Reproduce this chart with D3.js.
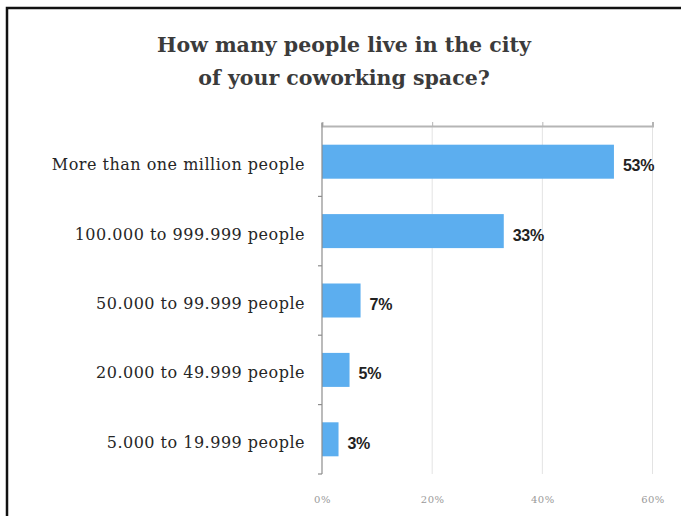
<!DOCTYPE html>
<html>
<head>
<meta charset="utf-8">
<script src="https://cdn.jsdelivr.net/npm/d3@7"></script>
<style>
  html, body { margin: 0; padding: 0; background: #fff; }
  svg { display: block; }
</style>
</head>
<body>
<svg id="chart" width="681" height="516"></svg>
<script>
// Survey answers: city size of the coworking space
const categories = [
  "More than one million people",
  "100.000 to 999.999 people",
  "50.000 to 99.999 people",
  "20.000 to 49.999 people",
  "5.000 to 19.999 people"
];
const shares = [53, 33, 7, 5, 3];
const tickValues = [0, 20, 40, 60];
const titleLines = ["How many people live in the city", "of your coworking space?"];

const rows = categories.map((c, i) => ({ category: c, value: shares[i] }));

const svg = d3.select("#chart");
const W = 681, H = 516;
const plot = { left: 322, right: 652.5, top: 127, bottom: 474 };

// frame (top and left edges)
svg.append("path")
  .attr("d", `M7,${H} V8 H${W}`)
  .attr("fill", "none")
  .attr("stroke", "#111")
  .attr("stroke-width", 2.5);

// title
svg.append("g").selectAll("text")
  .data(titleLines)
  .join("text")
  .attr("x", 344)
  .attr("y", (d, i) => 52 + i * 33)
  .attr("text-anchor", "middle")
  .attr("font-family", "'DejaVu Serif', serif")
  .attr("font-weight", "bold")
  .attr("font-size", 20.5)
  .attr("fill", "#3b3b3b")
  .text(d => d);

const x = d3.scaleLinear().domain([0, 60]).range([plot.left, plot.right]);
const slot = d3.scaleBand().domain(categories).range([plot.top, plot.bottom]).padding(0);
const barH = slot.bandwidth() * 0.49;
const mid = c => slot(c) + slot.bandwidth() / 2;

// vertical gridlines
svg.append("g").selectAll("line")
  .data(tickValues.filter(v => v > 0))
  .join("line")
  .attr("x1", d => x(d)).attr("x2", d => x(d))
  .attr("y1", plot.top - 1).attr("y2", plot.bottom)
  .attr("stroke", "#e3e3e3")
  .attr("stroke-width", 1);

// top axis line with small upward ticks
const topAxis = svg.append("g")
  .attr("transform", `translate(0,${plot.top - 1})`)
  .call(d3.axisTop(x).tickValues(tickValues).tickSize(4).tickFormat(""));
topAxis.select(".domain").attr("stroke", "#b5b5b5").attr("stroke-width", 2);
topAxis.selectAll(".tick line").attr("stroke", "#b5b5b5").attr("stroke-width", 1);

// bars
svg.append("g").selectAll("rect")
  .data(rows)
  .join("rect")
  .attr("x", x(0))
  .attr("y", d => mid(d.category) - barH / 2)
  .attr("width", d => x(d.value) - x(0))
  .attr("height", barH)
  .attr("fill", "#5caeef");

// left axis with ticks between categories
const leftG = svg.append("g");
leftG.append("line")
  .attr("x1", plot.left).attr("x2", plot.left)
  .attr("y1", plot.top - 4).attr("y2", plot.bottom)
  .attr("stroke", "#8d8d8d").attr("stroke-width", 1.2);
leftG.selectAll("line.sep")
  .data(categories.slice(1).map(c => slot(c)).concat([plot.bottom]))
  .join("line")
  .attr("class", "sep")
  .attr("x1", plot.left - 4).attr("x2", plot.left)
  .attr("y1", d => d).attr("y2", d => d)
  .attr("stroke", "#8d8d8d").attr("stroke-width", 1.2);

// category labels
svg.append("g").selectAll("text")
  .data(rows)
  .join("text")
  .attr("x", 305)
  .attr("y", d => mid(d.category) + 8.5)
  .attr("text-anchor", "end")
  .attr("font-family", "'DejaVu Serif', serif")
  .attr("font-size", 16)
  .attr("letter-spacing", 0.5)
  .attr("fill", "#262626")
  .text(d => d.category);

// value labels
svg.append("g").selectAll("text")
  .data(rows)
  .join("text")
  .attr("x", d => x(d.value) + 9)
  .attr("y", d => mid(d.category) + 9.5)
  .attr("font-family", "'Liberation Sans', Arial, sans-serif")
  .attr("font-weight", "bold")
  .attr("font-size", 16)
  .attr("letter-spacing", -0.3)
  .attr("fill", "#222")
  .text(d => d.value + "%");

// bottom tick labels
const bottomAxis = svg.append("g")
  .attr("transform", `translate(0,${plot.bottom})`)
  .call(d3.axisBottom(x).tickValues(tickValues).tickSize(0).tickPadding(22).tickFormat(d => d + "%"));
bottomAxis.select(".domain").remove();
bottomAxis.selectAll("text")
  .attr("font-family", "'DejaVu Serif', serif")
  .attr("font-size", 10)
  .attr("letter-spacing", 0.5)
  .attr("fill", "#9a9a9a");
</script>
</body>
</html>
